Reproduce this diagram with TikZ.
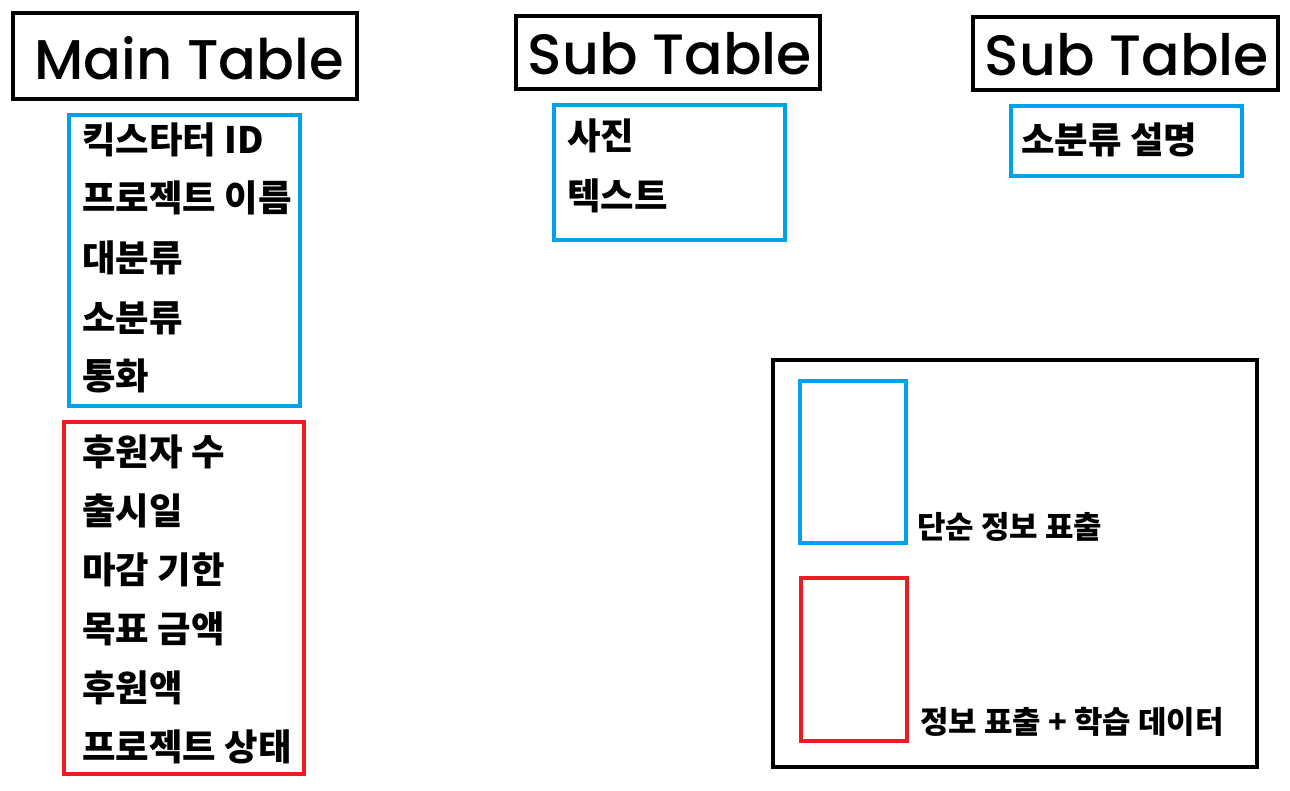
\documentclass[tikz,border=0pt]{standalone}
\usepackage{fontspec}
\setmainfont{Poppins}
\newfontfamily\kr{Noto Sans CJK KR}
\newfontfamily\ttl{Poppins Medium}
\definecolor{pblue}{HTML}{00A2E8}
\definecolor{pred}{HTML}{ED1C24}
\begin{document}
\begin{tikzpicture}[x=0.75pt,y=-0.75pt,
  frame/.style={draw=black,line width=3pt},
  bluebox/.style={draw=pblue,line width=3pt},
  redbox/.style={draw=pred,line width=3pt},
  item/.style={anchor=west,inner sep=0pt,font=\kr\bfseries\fontsize{27.3pt}{32pt}\selectfont},
  lgd/.style={anchor=west,inner sep=0pt,font=\kr\bfseries\fontsize{23.2pt}{28pt}\selectfont},
  ttlnode/.style={inner sep=0pt}]
\useasboundingbox (0,0) rectangle (1290,791);
% title boxes
\draw[frame] (13,13) rectangle (357,99);
\node[ttlnode] (t1) at (189,58) {\resizebox{232pt}{!}{\ttl Main Table}};
\draw[frame] (516,16) rectangle (820,89);
\node[ttlnode] (t2) at (670,54) {\resizebox{213pt}{!}{\ttl Sub Table}};
\draw[frame] (973,17) rectangle (1278,90);
\node[ttlnode] (t3) at (1127,55) {\resizebox{213pt}{!}{\ttl Sub Table}};
% main table fields
\draw[bluebox] (69,115) rectangle (300,406);
\node[item] (m1) at (82,140) {킥스타터 ID};
\node[item] (m2) at (82,198) {프로젝트 이름};
\node[item] (m3) at (82,258) {대분류};
\node[item] (m4) at (82,318) {소분류};
\node[item] (m5) at (82,376) {통화};
\draw[redbox] (64,422) rectangle (304,774);
\node[item] (r1) at (82,452) {후원자 수};
\node[item] (r2) at (82,511) {출시일};
\node[item] (r3) at (82,570) {마감 기한};
\node[item] (r4) at (82,629) {목표 금액};
\node[item] (r5) at (82,688) {후원액};
\node[item] (r6) at (82,747) {프로젝트 상태};
% sub table 1
\draw[bluebox] (554,105) rectangle (785,240);
\node[item] (s1) at (567,136) {사진};
\node[item] (s2) at (567,196) {텍스트};
% sub table 2
\draw[bluebox] (1011,106) rectangle (1242,176);
\node[item] (s3) at (1021,140) {소분류 설명};
% legend
\draw[frame] (773,360) rectangle (1257,767);
\draw[bluebox] (800,381) rectangle (906,543);
\node[lgd] (l1) at (917,527) {단순 정보 표출};
\draw[redbox] (801,578) rectangle (907,741);
\node[lgd] (l2) at (920,722) {정보 표출 + 학습 데이터};
\end{tikzpicture}
\end{document}
